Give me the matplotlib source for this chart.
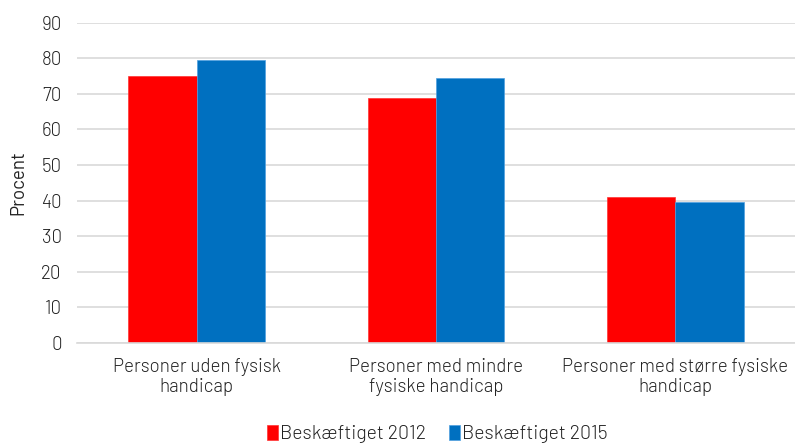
import matplotlib.pyplot as plt
import numpy as np

plt.rcParams['font.family'] = ['Barlow', 'DejaVu Sans']
plt.rcParams['font.weight'] = 300

categories = ['Personer uden fysisk\nhandicap',
              'Personer med mindre\nfysiske handicap',
              'Personer med større fysiske\nhandicap']
beskaeftiget_2012 = [75.0, 68.8, 40.9]
beskaeftiget_2015 = [79.4, 74.5, 39.6]
series_names = ['Beskæftiget 2012', 'Beskæftiget 2015']

fig = plt.figure(figsize=(7.95, 4.43), dpi=100)
ax = fig.add_axes([77 / 795, 1 - 343 / 443, 718 / 795, (343 - 22.7) / 443])

x = np.arange(len(categories))
w = 0.285
ax.bar(x - w / 2, beskaeftiget_2012, w, color='#ff0000', label=series_names[0],
       edgecolor='#ff3333', linewidth=0.5)
ax.bar(x + w / 2, beskaeftiget_2015, w, color='#0070c0', label=series_names[1],
       edgecolor='#4fa0e0', linewidth=0.5)

ax.set_xlim(-0.5, 2.5)
ax.set_ylim(0, 90)
ax.set_yticks(range(0, 91, 10))
ax.set_xticks(x)
ax.set_xticklabels(categories, fontsize=13.5, color='#222222', linespacing=1.1)
ax.tick_params(axis='y', labelsize=13.5, labelcolor='#222222', length=0, pad=11)
ax.tick_params(axis='x', length=0, pad=11)
ax.yaxis.grid(True, color='#d9d9d9', linewidth=1.2)
ax.set_axisbelow(True)
for s in ['top', 'right', 'left']:
    ax.spines[s].set_visible(False)
ax.spines['bottom'].set_color('#d9d9d9')
ax.spines['bottom'].set_linewidth(1.2)

ax.set_ylabel('Procent', fontsize=13.5, color='#222222', labelpad=10)

fig.legend(loc='lower center', bbox_to_anchor=(0.55, -0.04), ncol=2, frameon=False,
           fontsize=14, handlelength=0.55, handleheight=0.85, handletextpad=0.1,
           columnspacing=1.2, labelcolor='#222222')

fig.savefig('out.png', dpi=100)
